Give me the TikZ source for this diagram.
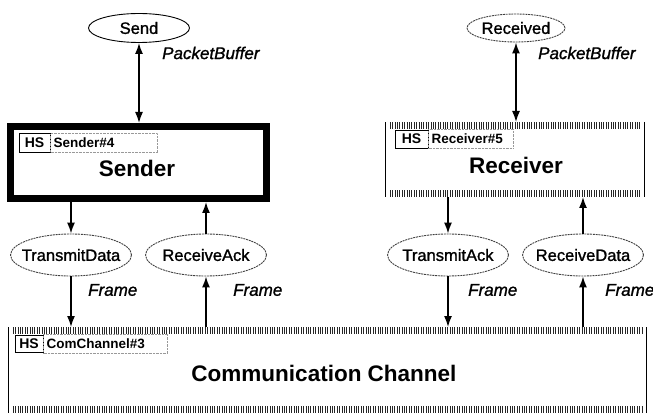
\documentclass[tikz,border=0pt]{standalone}
\usepackage{fontspec}
\setmainfont{Liberation Sans}
\newfontfamily\medio[FakeBold=1.2]{Liberation Sans}
\usetikzlibrary{shapes.geometric, positioning, arrows.meta}

\newcommand{\fs}[1]{\fontsize{#1}{#1}\selectfont}
\newcommand{\marco}[1]{%
	\draw[marcas] ([yshift=-3.5pt]#1.north west) -- ([yshift=-3.5pt]#1.north east);
	\draw[marcas] ([yshift=3.5pt]#1.south west) -- ([yshift=3.5pt]#1.south east);
	\draw[lados] ([xshift=1.8pt]#1.north west) -- ([xshift=1.8pt]#1.south west);
	\draw[lados] ([xshift=-1.8pt]#1.north east) -- ([xshift=-1.8pt]#1.south east);
}

\tikzset{
	lugar/.style={ellipse, draw, line width=.9pt, inner xsep=-10pt, inner ysep=0pt, font=\medio\fs{16.5}},
	lugarpuerto/.style={lugar, draw=black!75, dash pattern=on 2pt off .8pt, minimum width=121pt, minimum height=42pt},
	tipo/.style={font=\medio\fs{17}\itshape, anchor=west, inner sep=0pt},
	flecha/.style={line width=1.5pt, -{Latex[length=11pt, width=8pt]}},
	titulo/.style={font=\fs{22.5}\bfseries},
	hs/.style={draw, line width=.7pt, font=\fs{14}\bfseries, inner sep=0pt},
	hsnombre/.style={draw=black!40, densely dotted, font=\fs{13.5}\bfseries, minimum height=19pt, inner xsep=3pt, inner ysep=0pt, align=left},
	marcas/.style={line width=7pt, draw=black!85, dash pattern=on 1pt off 1.4pt},
	lados/.style={line width=.7pt, double, double distance=1.6pt},
}

\begin{document}
\begin{tikzpicture}[x=1pt, y=-1pt]
	\useasboundingbox (0,0) rectangle (653,414);
	
	% Cajas
	\node[draw, line width=7pt, minimum width=256pt, minimum height=72pt, inner sep=0pt] (sender) at (138.5,162.5) {};
	\node[minimum width=260pt, minimum height=75pt, outer sep=0pt] (receiver) at (515,159.5) {};
	\node[minimum width=639pt, minimum height=86pt, outer sep=0pt] (chan) at (327.5,370) {};
	\marco{receiver}
	\marco{chan}
	\node[titulo] (sendertit) at (137,168) {Sender};
	\node[titulo] (receivertit) at (516,165) {Receiver};
	\node[titulo] (chantit) at (324,373) {Communication Channel};
	
	% Etiquetas HS
	\node[hs, minimum width=31pt, minimum height=19pt] (sendhs) at (34.5,143) {HS};
	\node[hsnombre, text width=101pt, right=0pt of sendhs] (sendname) {Sender\#4};
	\node[hs, minimum width=33pt, minimum height=18pt] (rcvhs) at (411.5,139) {HS};
	\node[hsnombre, text width=79pt, right=0pt of rcvhs] (rcvname) {Receiver\#5};
	\node[hs, minimum width=28pt, minimum height=17pt] (chanhs) at (29,343.5) {HS};
	\node[hsnombre, text width=118pt, right=0pt of chanhs] (channame) {ComChannel\#3};
	
	% Lugares
	\node[lugar, minimum width=101pt, minimum height=29pt] (send) at (139,28) {Send};
	\node[lugarpuerto, minimum width=98pt, minimum height=28pt] (received) at (516,28) {Received};
	\node[lugarpuerto] (tdata) at (71,255) {TransmitData};
	\node[lugarpuerto] (rack) at (206,255) {ReceiveAck};
	\node[lugarpuerto] (tack) at (448,255) {TransmitAck};
	\node[lugarpuerto] (rdata) at (583,255) {ReceiveData};
	
	\node[tipo] (pbsend) at (162,53) {PacketBuffer};
	\node[tipo] (pbrcv) at (538,53) {PacketBuffer};
	\node[tipo] (fr1) at (88,290) {Frame};
	\node[tipo] (fr2) at (233,290) {Frame};
	\node[tipo] (fr3) at (468,290) {Frame};
	\node[tipo] (fr4) at (605,290) {Frame};
	
	% Flechas
	\draw[flecha, {Latex[length=11pt, width=8pt]}-{Latex[length=11pt, width=8pt]}] (send.south) -- (send.south |- sender.north);
	\draw[flecha, {Latex[length=11pt, width=8pt]}-{Latex[length=11pt, width=8pt]}] (received.south) -- (received.south |- receiver.north);
	\draw[flecha] (sender.south -| tdata) -- (tdata.north);
	\draw[flecha] (rack.north) -- (rack.north |- sender.south);
	\draw[flecha] (tack.north |- receiver.south) -- (tack.north);
	\draw[flecha] (rdata.north) -- (rdata.north |- receiver.south);
	\draw[flecha] (tdata.south) -- (tdata.south |- chan.north);
	\draw[flecha] (rack.south |- chan.north) -- (rack.south);
	\draw[flecha] (tack.south) -- (tack.south |- chan.north);
	\draw[flecha] (rdata.south |- chan.north) -- (rdata.south);
\end{tikzpicture}
\end{document}
